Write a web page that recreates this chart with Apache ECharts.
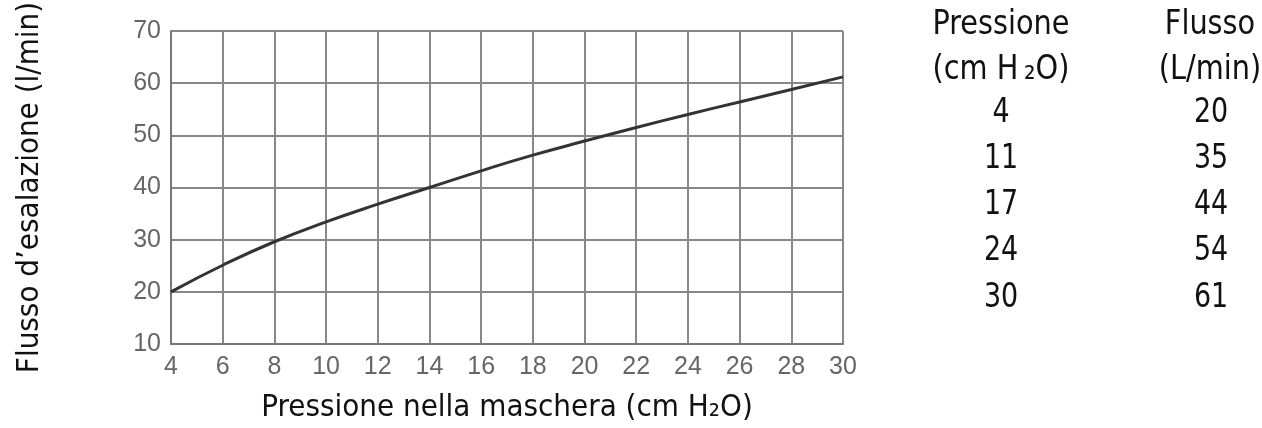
<!DOCTYPE html>
<html><head><meta charset="utf-8">
<script src="https://cdn.jsdelivr.net/npm/echarts@6/dist/echarts.min.js"></script>
<style>html,body{margin:0;padding:0;background:#fff}#c{width:1262px;height:428px}</style>
</head><body><div id="c"></div>
<script>
const pressure = [4, 6, 8, 10, 12, 14, 16, 18, 20, 22, 24, 26, 28, 30];
const flow = [20, 25.1, 29.6, 33.4, 36.8, 40, 43.2, 46.2, 48.9, 51.5, 54, 56.4, 58.8, 61.2];
const tablePressure = ['4', '11', '17', '24', '30'];
const tableFlow = ['20', '35', '44', '54', '61'];
const tableHead1 = ['Pressione', '(cm H\u2009\u2082O)'];
const tableHead2 = ['Flusso', '(L/min)'];
const xTitle = 'Pressione nella maschera (cm H\u2082O)';
const yTitle = 'Flusso d\u2019esalazione (l/min)';

const narrow = '"DejaVu Sans Condensed", sans-serif';
const chart = echarts.init(document.getElementById('c'));
const graphics = [];
function addText(t, x, y, sx) {
  graphics.push({type:'text', x:x, y:y, scaleX:sx,
    style:{text:t, font:'34px ' + narrow, fill:'#111', textAlign:'center', textVerticalAlign:'middle'}});
}
const headY = [25, 70];
tableHead1.forEach((t,i)=>addText(t, 1001, headY[i], 0.94));
tableHead2.forEach((t,i)=>addText(t, 1210, headY[i], 0.94));
tablePressure.forEach((t,i)=>addText(t, 1001, 113 + i*46.2, 0.88));
tableFlow.forEach((t,i)=>addText(t, 1211, 113 + i*46.2, 0.88));

const tickFont = '"Liberation Sans", Arial, sans-serif';
chart.setOption({
  animation:false,
  grid:{left:171, right:419, top:31, bottom:84, outerBoundsMode:'none', containLabel:false},
  xAxis:{type:'value', min:4, max:30, interval:2,
    name:xTitle, nameLocation:'middle', nameGap:48,
    nameTextStyle:{fontFamily:narrow, fontSize:31, color:'#111'},
    axisLine:{show:true, lineStyle:{color:'#777', width:2}},
    axisTick:{show:false},
    axisLabel:{color:'#666', fontSize:25, fontFamily:tickFont, margin:11},
    splitLine:{show:true, lineStyle:{color:'#888', width:2}}},
  yAxis:{type:'value', min:10, max:70, interval:10,
    name:yTitle, nameLocation:'middle', nameGap:126, nameRotate:90,
    nameTextStyle:{fontFamily:narrow, fontSize:31, color:'#111'},
    axisLine:{show:true, lineStyle:{color:'#777', width:2}},
    axisTick:{show:false},
    axisLabel:{color:'#666', fontSize:25, fontFamily:tickFont, margin:10},
    splitLine:{show:true, lineStyle:{color:'#888', width:2}}},
  series:[{type:'line', data:pressure.map((p,i)=>[p, flow[i]]), smooth:true, showSymbol:false,
    lineStyle:{color:'#333', width:3}}],
  graphic:graphics
});
</script></body></html>
